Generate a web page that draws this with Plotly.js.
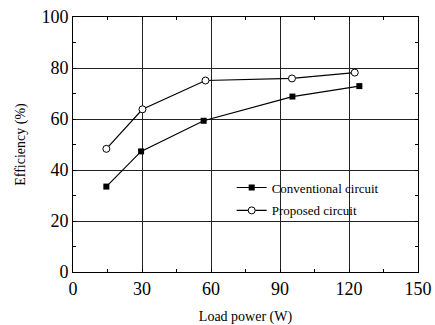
<!DOCTYPE html>
<html><head><meta charset="utf-8">
<script src="https://cdn.plot.ly/plotly-3.0.1.min.js"></script>
<style>body{margin:0;background:#fff}#c{width:435px;height:325px}</style>
</head><body><div id="c"></div>
<script>
const convX = [14.5, 29.6, 56.8, 95.4, 124.5];
const convY = [33.5, 47.3, 59.3, 68.8, 72.9];
const propX = [14.5, 30.2, 57.6, 95.2, 122.5];
const propY = [48.3, 63.8, 75.1, 75.9, 78.2];
const xTicks = [0, 30, 60, 90, 120, 150];
const yTicks = [0, 20, 40, 60, 80, 100];

const FAM = 'Times New Roman, Liberation Serif, DejaVu Serif, serif';
const traces = [
  {x: convX, y: convY, name: 'Conventional circuit', mode: 'lines+markers', legendgroup: 'a',
   line: {color: '#000', width: 1.2}, marker: {symbol: 'square', size: 6, color: '#000'}},
  {x: propX, y: propY, name: 'Proposed circuit', mode: 'lines+markers', legendgroup: 'b',
   line: {color: '#000', width: 1.2}, marker: {symbol: 'circle', size: 7, color: '#fff', line: {width: 1, color: '#000'}}}
];
const layout = {
  width: 435, height: 325, paper_bgcolor: '#fff', plot_bgcolor: '#fff',
  font: {family: FAM, color: '#000', size: 13},
  margin: {l: 73, r: 17, t: 17, b: 53},
  showlegend: true,
  legend: {x: 0.46, y: 0.39, xanchor: 'left', yanchor: 'top', font: {family: FAM, size: 13, color: '#000'},
    bgcolor: 'rgba(0,0,0,0)', traceorder: 'grouped', tracegroupgap: 3, itemwidth: 30},
  xaxis: {showline: true, linecolor: '#000', linewidth: 1, mirror: 'ticks', ticks: 'inside', ticklen: 0,
    showgrid: true, gridcolor: '#222', gridwidth: 1, zeroline: false, tickfont: {family: FAM, size: 18, color: '#000'},
    range: [0, 150], tickvals: xTicks, ticktext: xTicks.map(String),
    minor: {ticks: 'inside', ticklen: 3, tickcolor: '#000', showgrid: false, dtick: 15},
    title: {text: 'Load power (W)', font: {family: FAM, size: 14, color: '#000'}, standoff: 14}},
  yaxis: {showline: true, linecolor: '#000', linewidth: 1, mirror: 'ticks', ticks: 'inside', ticklen: 0,
    showgrid: true, gridcolor: '#222', gridwidth: 1, zeroline: false, tickfont: {family: FAM, size: 18, color: '#000'},
    range: [0, 100], tickvals: yTicks, ticktext: yTicks.map(String),
    minor: {ticks: 'inside', ticklen: 3, tickcolor: '#000', showgrid: false, dtick: 10},
    title: {text: 'Efficiency (%)', font: {family: FAM, size: 14, color: '#000'}, standoff: 12}}
};
Plotly.newPlot('c', traces, layout, {displayModeBar: false, staticPlot: true});
</script></body></html>
